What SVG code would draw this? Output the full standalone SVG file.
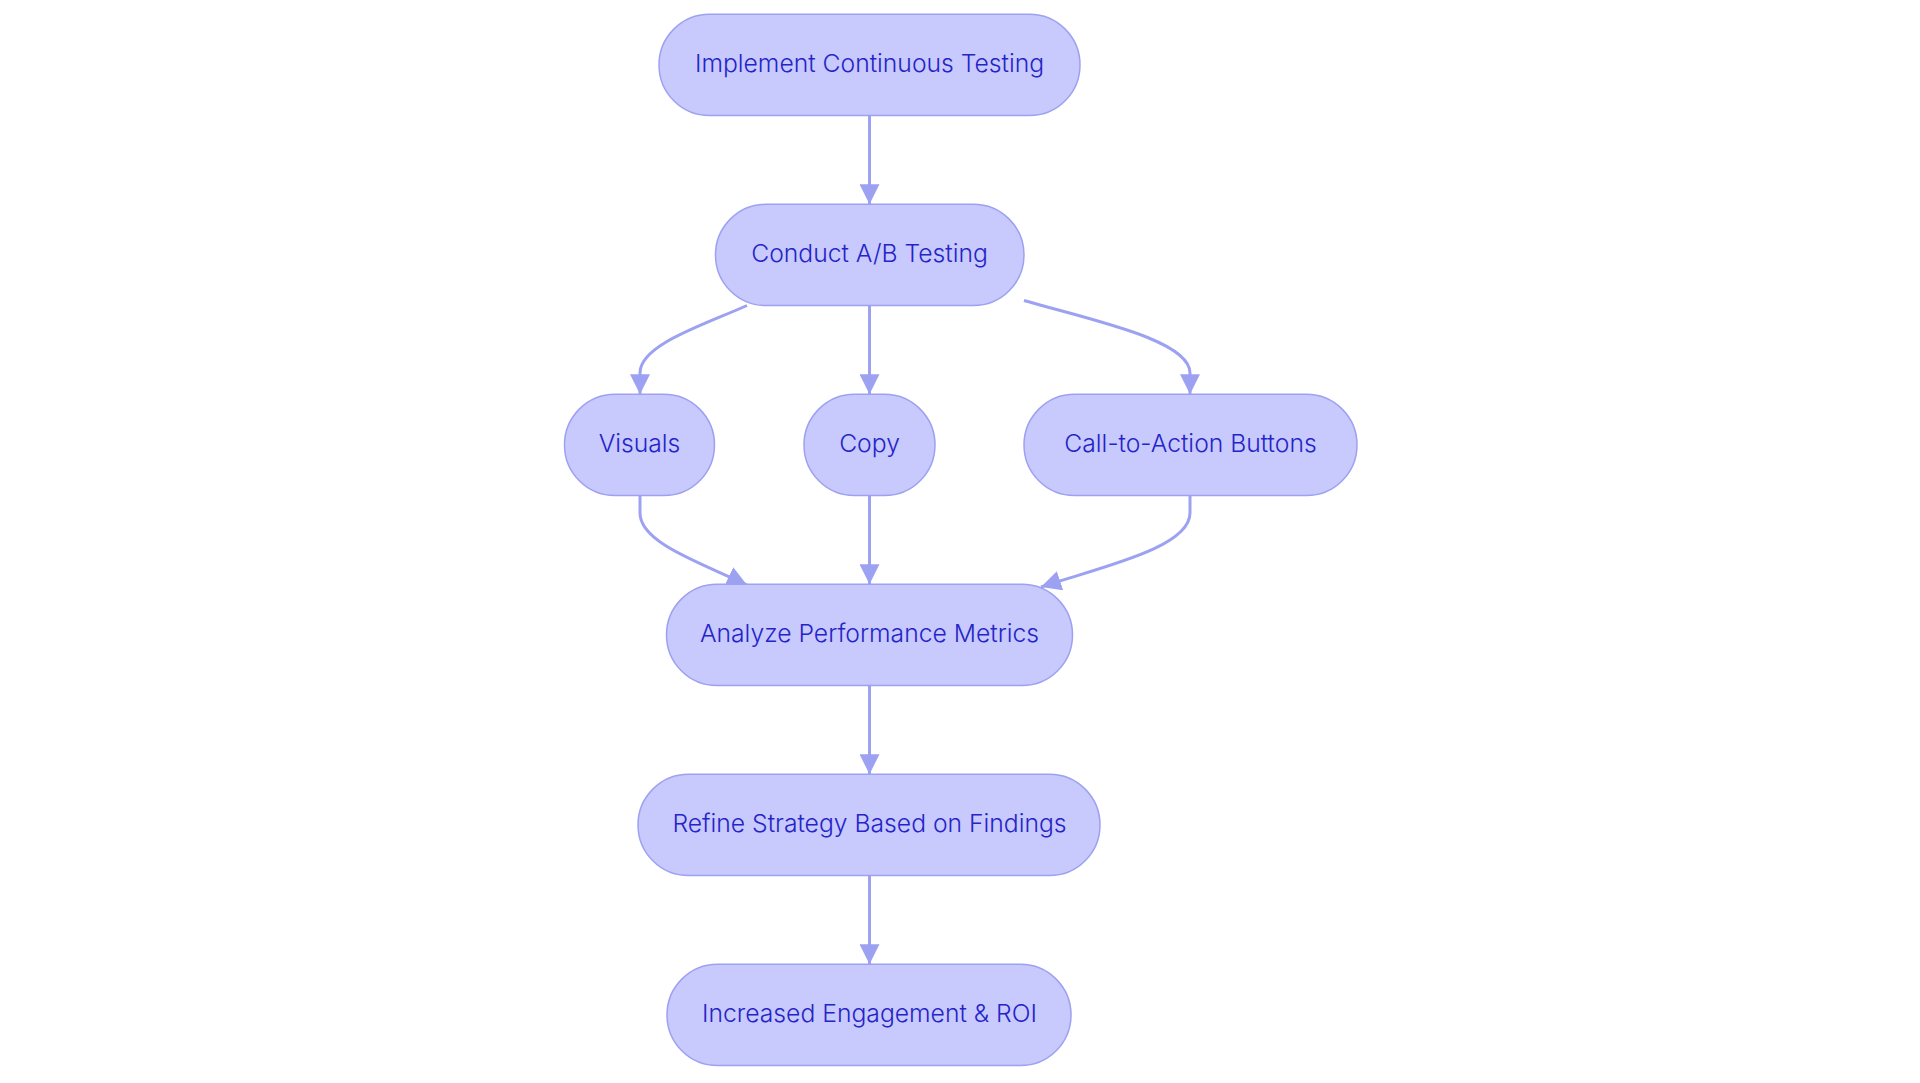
<svg xmlns="http://www.w3.org/2000/svg" width="1920" height="1083" viewBox="0 0 1920 1083">
<style>
.node rect{fill:#c8c9fc;stroke:#9da1f1;stroke-width:1.5}
.node text{font-family:Inter,"Noto Sans",sans-serif;font-size:24.7px;font-weight:300;fill:#2424c8;text-anchor:middle}
.edge{fill:none;stroke:#9da1f1;stroke-width:3}
</style>
<defs>
<marker id="arr" viewBox="0 0 20 20" refX="20" refY="10" markerWidth="20" markerHeight="20" markerUnits="userSpaceOnUse" orient="auto">
<path d="M0,0 L20,10 L0,20 z" fill="#9da1f1"/>
</marker>
</defs>
<rect width="1920" height="1083" fill="#ffffff"/>
<g id="edges">
<path class="edge" d="M869.5,115.5 L869.5,204.3" marker-end="url(#arr)"/>
<path class="edge" d="M747,305.5 C701,326 640,345 640,373 L640,394.3" marker-end="url(#arr)"/>
<path class="edge" d="M869.5,305.5 L869.5,394.3" marker-end="url(#arr)"/>
<path class="edge" d="M1024,300.5 C1091,320 1190,340 1190,373 L1190,394.3" marker-end="url(#arr)"/>
<path class="edge" d="M640,495.5 L640,513 C640,543 701,563 747,585" marker-end="url(#arr)"/>
<path class="edge" d="M869.5,495.5 L869.5,584.3" marker-end="url(#arr)"/>
<path class="edge" d="M1190,495.5 L1190,513 C1190,548 1101,567 1041,587" marker-end="url(#arr)"/>
<path class="edge" d="M869.5,685.5 L869.5,774.3" marker-end="url(#arr)"/>
<path class="edge" d="M869.5,875.5 L869.5,964.3" marker-end="url(#arr)"/>
</g>
<g id="n1" class="node"><rect x="659" y="14.3" width="421" height="101.3" rx="50.6"/><text x="869.5" y="71.8">Implement Continuous Testing</text></g>
<g id="n2" class="node"><rect x="715.5" y="204.3" width="308.5" height="101.3" rx="50.6"/><text x="869.5" y="261.8">Conduct A/B Testing</text></g>
<g id="n3" class="node"><rect x="564.5" y="394.3" width="150" height="101.3" rx="50.6"/><text x="639.5" y="451.8">Visuals</text></g>
<g id="n4" class="node"><rect x="804" y="394.3" width="131" height="101.3" rx="50.6"/><text x="869.5" y="451.8">Copy</text></g>
<g id="n5" class="node"><rect x="1024" y="394.3" width="333" height="101.3" rx="50.6"/><text x="1190.5" y="451.8">Call-to-Action Buttons</text></g>
<g id="n6" class="node"><rect x="666.5" y="584.3" width="406" height="101.3" rx="50.6"/><text x="869.5" y="641.8">Analyze Performance Metrics</text></g>
<g id="n7" class="node"><rect x="638" y="774.3" width="462" height="101.3" rx="50.6"/><text x="869.5" y="831.8">Refine Strategy Based on Findings</text></g>
<g id="n8" class="node"><rect x="667" y="964.3" width="404" height="101.3" rx="50.6"/><text x="869.5" y="1021.8">Increased Engagement &amp; ROI</text></g>
</svg>
